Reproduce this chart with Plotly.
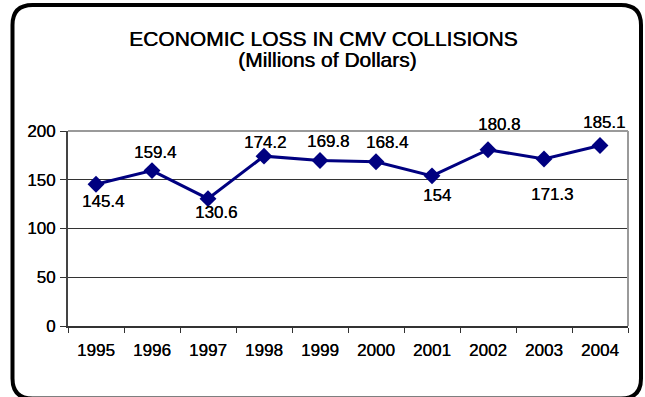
import plotly.graph_objects as go

# Economic loss in commercial motor vehicle collisions, millions of dollars
years = ["1995", "1996", "1997", "1998", "1999", "2000", "2001", "2002", "2003", "2004"]
loss = [145.4, 159.4, 130.6, 174.2, 169.8, 168.4, 154, 180.8, 171.3, 185.1]
y_ticks = [0, 50, 100, 150, 200]

# Per-point nudges (pixels) for the value labels
label_dx = [7, 3, 8, 1, 8, 11, 5, 11, 8, 4]
label_dy = [-17, 18, -14, 14, 19, 19, -20, 25, -36, 23]

W, H = 645, 397
L, R, T, B = 68, 628, 131, 326   # plot area edges in pixels

def px(x):
    return (x - L) / (R - L)

def py(y):
    return (B - y) / (B - T)

NAVY = "#000080"
FONT = "Liberation Sans, Arial, sans-serif"

def tfont(size, smear):
    # a slight horizontal text-shadow thickens the glyph strokes a little
    return dict(family=FONT, size=size, color="black", shadow=f"{smear}px 0 0 #000")

fig = go.Figure()
fig.add_trace(go.Scatter(
    x=years, y=loss, mode="lines+markers",
    line=dict(color=NAVY, width=3),
    marker=dict(symbol="diamond", size=13, color=NAVY),
    hoverinfo="x+y", showlegend=False,
))

annotations = []
for i, (v, dx, dy) in enumerate(zip(loss, label_dx, label_dy)):
    # category axis: position by category index
    annotations.append(dict(
        x=i, y=v, xref="x", yref="y", text=f"{v:g}", showarrow=False,
        xanchor="center", yanchor="middle", xshift=dx, yshift=dy,
        font=tfont(17, 0.2),
    ))

# Two-line chart title
annotations.append(dict(
    x=px(323.5), y=py(39), xref="paper", yref="paper",
    text="ECONOMIC LOSS IN CMV COLLISIONS", showarrow=False,
    xanchor="center", yanchor="middle", font=tfont(21, 0.45),
))
annotations.append(dict(
    x=px(327.5), y=py(60), xref="paper", yref="paper",
    text="(Millions of Dollars)", showarrow=False,
    xanchor="center", yanchor="middle", font=tfont(21, 0.45),
))

# Rounded outer frame
fl, fr, ft, fb, rad = 12.5, 641, 5, 398.5, 20
frame_path = (
    f"M {px(fl + rad)} {py(ft)} L {px(fr - rad)} {py(ft)} "
    f"Q {px(fr)} {py(ft)} {px(fr)} {py(ft + rad)} "
    f"L {px(fr)} {py(fb - rad)} "
    f"Q {px(fr)} {py(fb)} {px(fr - rad)} {py(fb)} "
    f"L {px(fl + rad)} {py(fb)} "
    f"Q {px(fl)} {py(fb)} {px(fl)} {py(fb - rad)} "
    f"L {px(fl)} {py(ft + rad)} "
    f"Q {px(fl)} {py(ft)} {px(fl + rad)} {py(ft)} Z"
)

shapes = [
    dict(type="path", path=frame_path, xref="paper", yref="paper",
         line=dict(color="black", width=4), layer="above"),
    # grey top and right edges of the plot area
    dict(type="line", xref="paper", yref="paper", x0=0, x1=1, y0=1, y1=1,
         line=dict(color="#9a9a9a", width=2), layer="above"),
    dict(type="line", xref="paper", yref="paper", x0=1, x1=1, y0=0, y1=1,
         line=dict(color="#9a9a9a", width=2), layer="above"),
]

fig.update_layout(
    width=W, height=H,
    margin=dict(l=L, r=W - R, t=T, b=H - B, pad=0),
    paper_bgcolor="white", plot_bgcolor="white",
    font=dict(family=FONT, size=17, color="black"),
    annotations=annotations, shapes=shapes,
    xaxis=dict(
        type="category", range=[-0.5, len(years) - 0.5],
        showline=True, linecolor="#333333", linewidth=2,
        ticks="outside", tickson="boundaries", ticklen=5,
        tickcolor="#333333", tickwidth=1,
        showgrid=False, zeroline=False,
        tickfont=tfont(17, 0.2),
        ticklabelstandoff=8,
    ),
    yaxis=dict(
        range=[0, 200], tickvals=y_ticks, ticktext=[str(t) for t in y_ticks],
        showline=True, linecolor="#444444", linewidth=2,
        ticks="outside", ticklen=6, tickcolor="#333333", tickwidth=1,
        showgrid=True, gridcolor="#333333", gridwidth=1, zeroline=False,
        tickfont=tfont(17, 0.2),
        ticklabelstandoff=1,
    ),
)

fig.write_html("out.html")
